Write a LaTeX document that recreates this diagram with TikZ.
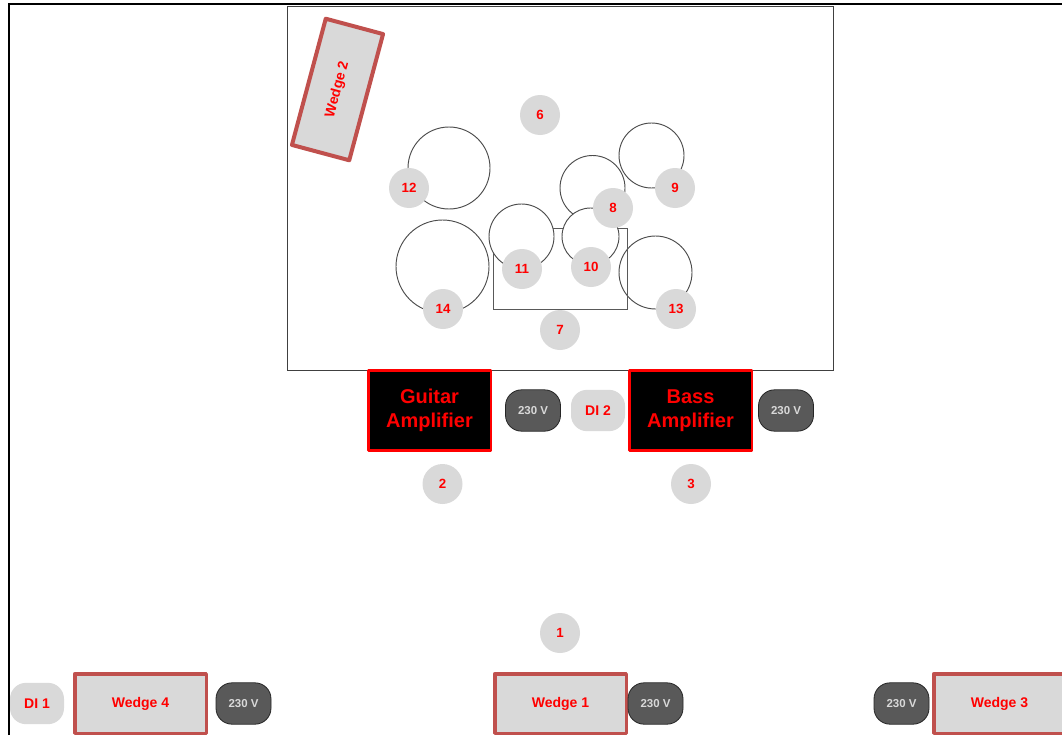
\documentclass[tikz,border=0pt]{standalone}
\usepackage{fontspec}
\setmainfont{Liberation Sans}
\usepackage{xcolor}
\usetikzlibrary{positioning}
\definecolor{wedgeline}{HTML}{C0504D}
\definecolor{padgrey}{HTML}{D9D9D9}
\definecolor{plugdark}{HTML}{595959}
\tikzset{
 badge/.style={circle,fill=padgrey,text=red,inner sep=0pt,minimum size=30pt,font=\fontsize{10}{12}\selectfont\bfseries},
 drum/.style={circle,draw=black!70,fill=white,line width=.7pt,inner sep=0pt},
 wedge/.style={rectangle,draw=wedgeline,fill=padgrey,text=red,line width=2.6pt,line join=round,inner sep=0pt,minimum width=98.6pt,minimum height=44.6pt,font=\fontsize{10.5}{12}\selectfont\bfseries},
 amp/.style={rectangle,draw=red,fill=black,text=red,line width=2pt,line join=round,inner sep=0pt,minimum width=92pt,minimum height=60.4pt,align=center,font=\fontsize{15}{18}\selectfont\bfseries},
 plug/.style={rectangle,rounded corners=12pt,draw=black!85,fill=plugdark,text=padgrey,line width=.6pt,inner sep=0pt,minimum width=41.25pt,minimum height=31pt,font=\fontsize{8.6}{10}\selectfont\bfseries},
 dibox/.style={rectangle,rounded corners=12pt,fill=padgrey,text=red,inner sep=0pt,minimum width=40.5pt,minimum height=31pt,font=\fontsize{10.5}{12}\selectfont\bfseries},
}
\begin{document}
\begin{tikzpicture}[x=.75pt,y=-.75pt]
 \useasboundingbox (0,0) rectangle (1062,735);
 % room edge and stage
 \draw[black,line width=1.5pt] (8.5,735)--(8.5,4.5)--(1062,4.5);
 \draw[black!75,line width=.5pt] (287,6) rectangle (833,370);
 % drums
 \node[drum,minimum size=61.5pt] (drum12) at(449,168){};
 \node[drum,minimum size=48.75pt] (drum8) at(592.5,188){};
 \node[drum,minimum size=48.75pt] (drum9) at(651.5,155.5){};
 \node[drum,minimum size=69.75pt] (drum14) at(442.5,266.5){};
 \node[drum,minimum size=54.75pt] (drum13) at(655.5,272.5){};
 \draw[black!65,line width=.7pt] (493,228) rectangle (627,309);
 \node[drum,minimum size=48.75pt] (drum11) at(521.5,236.5){};
 \node[drum,minimum size=42.75pt] (drum10) at(590.5,236.5){};
 % numbers
 \node[badge] (n1) at(560,633){1};
 \node[badge] (n2) at(442.5,484){2};
 \node[badge] (n3) at(691,484){3};
 \node[badge] (n6) at(540,115){6};
 \node[badge] (n7) at(560,330){7};
 \node[badge] (n8) at(613,208){8};
 \node[badge] (n9) at(675,188){9};
 \node[badge] (n10) at(591,267){10};
 \node[badge] (n11) at(522,269){11};
 \node[badge] (n12) at(409,188){12};
 \node[badge] (n13) at(676,309){13};
 \node[badge] (n14) at(443,309){14};
 % amplifiers
 \node[amp] (guitar) at(429.5,410.5){Guitar\\Amplifier};
 \node[amp] (bass) at(690.5,410.5){Bass\\Amplifier};
 \node[plug] (pguitar) at(533,410.5){230 V};
 \node[dibox] (di2) at(598,410.5){DI 2};
 \node[plug] (pbass) at(786,410.5){230 V};
 % wedges
 \node[wedge,rotate=75,line width=3pt,minimum width=98pt,minimum height=44.5pt] (wedge2) at(337.5,89.5){Wedge 2};
 \node[dibox] (di1) at(37,703.5){DI 1};
 \node[wedge] (wedge4) at(140.5,703.5){Wedge 4};
 \node[plug] (pw4) at(243.5,703.5){230 V};
 \node[wedge] (wedge1) at(560.5,703.5){Wedge 1};
 \node[plug] (pw1) at(655.5,703.5){230 V};
 \node[plug] (pw3) at(901.5,703.5){230 V};
 \node[wedge] (wedge3) at(999.5,703.5){Wedge 3};
\end{tikzpicture}
\end{document}
